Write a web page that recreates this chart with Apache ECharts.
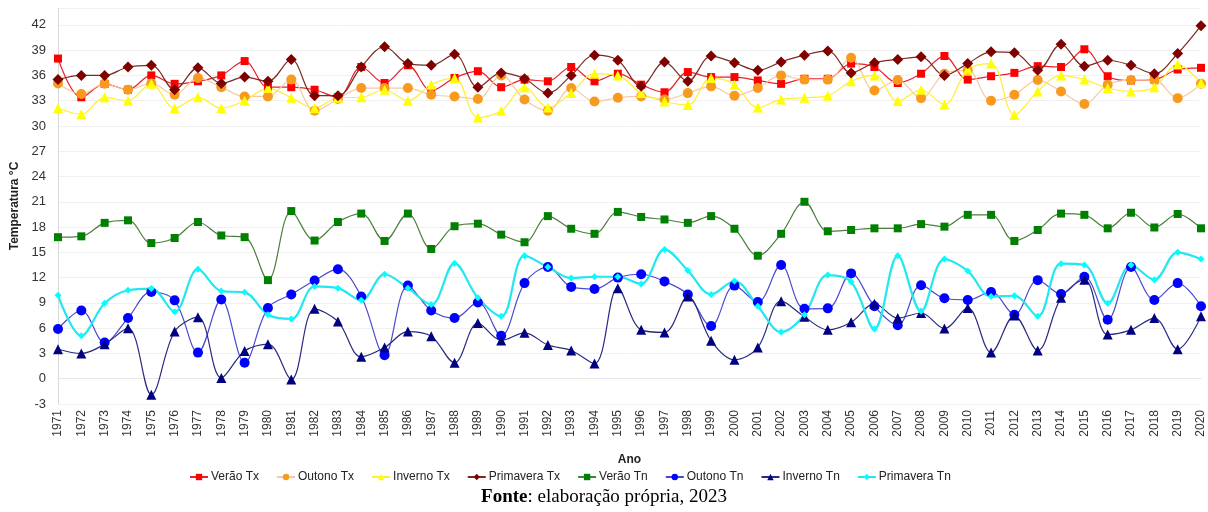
<!DOCTYPE html>
<html>
<head>
<meta charset="utf-8">
<script src="https://cdn.jsdelivr.net/npm/echarts@6/dist/echarts.min.js"></script>
<style>
  html, body { margin: 0; padding: 0; background: #fff; }
  #chart { width: 1208px; height: 512px; }
</style>
</head>
<body>
<div id="chart"></div>
<script>
// Seasonal maximum (Tx) and minimum (Tn) temperatures, 1971–2020
const years = [];
for (let y = 1971; y <= 2020; y++) years.push(String(y));

const veraoTx = [38.0,33.4,35.0,34.3,36.0,35.0,35.3,36.0,37.7,34.6,34.6,34.3,33.4,37.0,35.1,
  37.2,34.2,35.7,36.5,34.6,35.5,35.3,37.0,35.3,36.2,34.9,34.0,36.4,35.8,35.8,35.4,35.0,
  35.6,35.6,37.4,37.0,35.1,36.2,38.3,35.5,35.9,36.3,37.1,37.0,39.1,35.9,35.4,35.5,36.7,36.9];
const outonoTx = [35.05,33.8,35.0,34.3,35.05,33.7,35.7,34.6,33.5,33.5,35.5,31.8,33.2,34.5,34.5,
  34.5,33.7,33.5,33.2,36.0,33.15,31.8,34.5,32.9,33.35,33.5,33.15,33.9,34.7,33.6,34.5,36.0,
  35.5,35.5,38.1,34.2,35.45,33.3,36.2,36.6,33.0,33.7,35.45,34.1,32.6,34.9,35.45,35.45,33.3,35.0];
const invernoTx = [32.1,31.4,33.4,33.0,35.0,32.1,33.4,32.1,33.0,34.5,33.35,32.1,33.35,33.4,34.3,
  33.0,34.9,35.7,31.0,31.8,34.6,32.2,33.9,36.2,36.0,33.9,32.9,32.5,35.7,34.9,32.2,33.15,
  33.35,33.6,35.3,36.0,32.95,34.3,32.55,36.7,37.4,31.3,34.1,36.0,35.5,34.5,34.1,34.6,37.3,35.1];
const primaveraTx = [35.5,36.0,36.0,37.0,37.2,34.3,36.9,35.05,35.8,35.3,37.9,33.6,33.6,37.0,39.4,
  37.4,37.2,38.5,34.6,36.3,35.6,33.9,36.0,38.4,37.8,34.7,37.6,35.3,38.3,37.5,36.6,37.6,
  38.4,38.9,36.3,37.5,37.9,38.2,36.0,37.4,38.8,38.7,36.6,39.7,37.1,37.8,37.2,36.2,38.6,41.9];
const veraoTn = [16.8,16.9,18.5,18.8,16.1,16.7,18.6,17.0,16.8,11.7,19.9,16.4,18.6,19.6,16.35,
  19.6,15.4,18.1,18.4,17.1,16.2,19.3,17.8,17.2,19.8,19.2,18.9,18.5,19.3,17.8,14.6,17.2,
  21.0,17.5,17.65,17.85,17.85,18.35,18.05,19.45,19.45,16.35,17.65,19.6,19.45,17.85,19.7,17.95,19.55,17.85];
const outonoTn = [5.9,8.1,4.3,7.2,10.3,9.3,3.1,9.4,1.9,8.4,10.0,11.65,13.0,9.75,2.8,
  11.05,8.1,7.2,9.05,5.1,11.35,13.25,10.9,10.65,12.0,12.4,11.55,10.0,6.25,11.05,9.1,13.5,
  8.3,8.35,12.5,8.6,6.35,11.1,9.55,9.35,10.3,7.6,11.7,10.05,12.1,7.0,13.25,9.35,11.35,8.6];
const invernoTn = [3.5,3.0,4.1,6.0,-1.9,5.6,7.3,0.1,3.3,4.1,-0.1,8.3,6.8,2.6,3.7,
  5.6,5.05,1.9,6.6,4.55,5.45,4.0,3.35,1.8,10.75,5.8,5.5,9.75,4.5,2.25,3.7,9.2,
  7.35,5.8,6.7,8.9,7.2,7.8,5.95,8.4,3.1,7.5,3.35,9.6,11.75,5.25,5.8,7.2,3.5,7.4];
const primaveraTn = [9.9,5.1,8.95,10.5,10.7,7.95,13.0,10.4,10.25,7.6,7.1,10.95,10.75,9.3,12.4,
  10.75,8.8,13.7,9.6,7.4,14.6,13.25,11.95,12.1,12.1,11.25,15.35,12.85,10.0,11.6,8.6,5.55,
  7.6,12.3,11.5,5.9,14.6,8.0,14.2,12.8,9.75,9.85,7.4,13.65,13.5,8.95,13.5,11.75,15.0,14.2];

const axisFont = 'Arial, "Liberation Sans", sans-serif';

function line(name, data, lineColor, markerColor, symbol, size, width) {
  return {
    name: name,
    type: 'line',
    data: data,
    smooth: 0.35,
    symbol: symbol,
    symbolSize: size,
    showSymbol: true,
    lineStyle: { color: lineColor, width: width || 1.2 },
    itemStyle: { color: markerColor, borderWidth: 0 },
    emphasis: { disabled: true },
    z: 2
  };
}

const chart = echarts.init(document.getElementById('chart'), null, { renderer: 'canvas' });
chart.setOption({
  animation: false,
  backgroundColor: '#ffffff',
  grid: { left: 58, right: 7, top: 8, bottom: 108, containLabel: false },
  legend: {
    top: 466,
    left: 184,
    itemGap: 17,
    itemWidth: 18,
    itemHeight: 8,
    textStyle: { fontFamily: '"Liberation Sans Narrow", "Arial Narrow", Arial, sans-serif', fontSize: 12, color: '#222', padding: [0, 0, 0, -2] },
    data: ['Verão Tx','Outono Tx','Inverno Tx','Primavera Tx','Verão Tn','Outono Tn','Inverno Tn','Primavera Tn']
  },
  xAxis: {
    type: 'category',
    data: years,
    boundaryGap: false,
    name: 'Ano',
    nameLocation: 'middle',
    nameGap: 50,
    nameTextStyle: { fontFamily: axisFont, fontSize: 12, fontWeight: 'bold', color: '#222' },
    axisLine: { show: true, lineStyle: { color: '#e6e6e6' } },
    axisTick: { show: false },
    axisLabel: { rotate: 90, interval: 0, margin: 6, fontFamily: axisFont, fontSize: 12, color: '#333' },
    splitLine: { show: false }
  },
  yAxis: {
    type: 'value',
    min: -3,
    max: 44,
    interval: 3,
    name: 'Temperatura °C',
    nameLocation: 'middle',
    nameGap: 30,
    nameTextStyle: { fontFamily: axisFont, fontSize: 12, fontWeight: 'bold', color: '#222' },
    axisLine: { show: true, lineStyle: { color: '#d9d9d9' } },
    axisTick: { show: false },
    axisLabel: { showMaxLabel: false, margin: 12, fontFamily: axisFont, fontSize: 13, color: '#333' },
    splitLine: { show: true, lineStyle: { color: '#f0f0f0' } }
  },
  series: [
    line('Verão Tx', veraoTx, '#e8202a', '#ff0000', 'rect', 8),
    line('Outono Tx', outonoTx, '#f6c9a0', '#f79a1e', 'circle', 10),
    line('Inverno Tx', invernoTx, '#ffee33', '#ffff00', 'triangle', 10),
    line('Primavera Tx', primaveraTx, '#7a2a22', '#800000', 'diamond', 11),
    line('Verão Tn', veraoTn, '#4c7f3c', '#008000', 'rect', 8),
    line('Outono Tn', outonoTn, '#4a4ad0', '#0000ff', 'circle', 10),
    line('Inverno Tn', invernoTn, '#2a2a80', '#000080', 'triangle', 10),
    line('Primavera Tn', primaveraTn, '#22e6f0', '#00ffff', 'diamond', 7, 2.2)
  ],
  graphic: [{
    type: 'text',
    left: 'center',
    top: 488,
    style: {
      text: '{b|Fonte}{r|: elaboração própria, 2023}',
      rich: {
        b: { fontFamily: '"Liberation Serif", "Times New Roman", serif', fontSize: 19, fontWeight: 'bold', fill: '#000' },
        r: { fontFamily: '"Liberation Serif", "Times New Roman", serif', fontSize: 19, fill: '#000' }
      }
    }
  }]
});
</script>
</body>
</html>
